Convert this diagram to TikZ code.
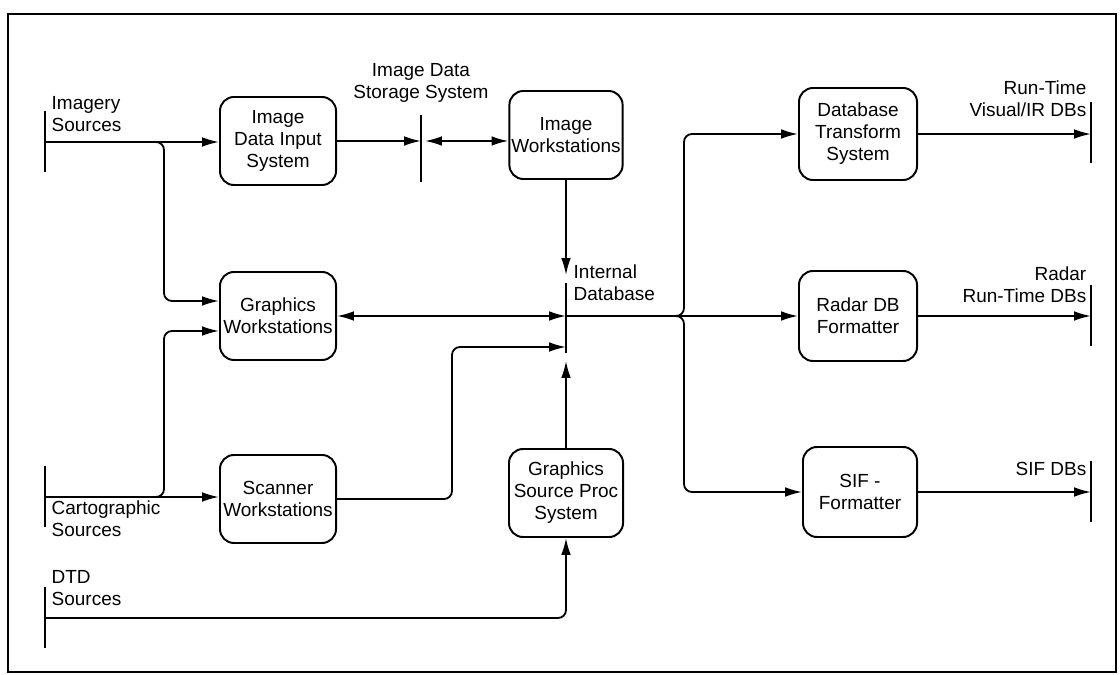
\documentclass[tikz,border=0pt]{standalone}
\usepackage{fontspec}
\setmainfont{Liberation Sans}
\usetikzlibrary{arrows.meta}
\begin{document}
\begin{tikzpicture}[x=0.025cm, y=-0.025cm, >={Latex[length=4.2mm,width=2.4mm]},
  font=\fontsize{13.5}{15.6}\selectfont,
  proc/.style={draw, line width=1.4pt, rounded corners=0.35cm, align=center,
    minimum width=2.9cm, minimum height=2.2cm, inner sep=1pt},
  flow/.style={->, line width=1.3pt, rounded corners=0.2cm},
  bar/.style={line width=1.3pt},
  lbl/.style={inner sep=1pt}]
\useasboundingbox (0,0) rectangle (1120,675);
\draw[line width=1.4pt] (8,14) rectangle (1116,672);

% processing boxes
\node[proc] (idi) at (278,141) {Image\\Data Input\\System};
\node[proc] (gw) at (278,316) {Graphics\\Workstations};
\node[proc] (sw) at (278,499) {Scanner\\Workstations};
\node[proc, minimum width=2.83cm] (iw) at (566,135) {Image\\Workstations};
\node[proc, minimum width=2.85cm] (gsp) at (566,493) {Graphics\\Source Proc\\System};
\node[proc, minimum width=2.95cm, minimum height=2.3cm] (dt) at (858,134) {Database\\Transform\\System};
\node[proc, minimum width=2.95cm, minimum height=2.25cm] (rf) at (858,316) {Radar DB\\Formatter};
\node[proc, minimum width=2.85cm, minimum height=2.25cm] (sif) at (860,492) {SIF -\\Formatter};

% sources, stores and sinks
\coordinate (img) at (45,142);
\coordinate (carto) at (45,497);
\coordinate (dtd) at (45,618);
\coordinate (store) at (421,141);
\coordinate (inttop) at (566,283);
\coordinate (intmid) at (566,316);
\coordinate (intlow) at (566,347);
\coordinate (intbot) at (566,353);
\coordinate (imgfork) at (164,142);
\coordinate (cartofork) at (164,497);
\coordinate (swturn) at (452,347);
\coordinate (dbfork) at (684,316);
\coordinate (vis) at (1091,133);
\coordinate (radar) at (1091,316);
\coordinate (sifout) at (1091,492);

\foreach \c in {img,carto,dtd,vis,radar,sifout}
{
  \draw[bar] (\c) ++(0,-31) -- ++(0,61);
}
\draw[bar] (store) ++(0,-26) -- ++(0,67);
\draw[bar] (inttop) -- (intbot);

% flows
\draw[flow] (img) -- (img -| idi.west);
\draw[flow] ([xshift=-0.3cm]imgfork) -- (imgfork) |- ([yshift=0.375cm]gw.west);
\draw[flow] (carto) -- (carto -| sw.west);
\draw[flow] ([xshift=-0.3cm]cartofork) -- (cartofork) |- ([yshift=-0.375cm]gw.west);
\draw[flow] (idi.east) -- (store);
\draw[flow, <->] ([xshift=0.1cm]store) -- (store -| iw.west);
\draw[flow, shorten >=0.2cm] (iw.south) -- (inttop);
\draw[flow, <->] (gw.east) -- (intmid);
\draw[flow] (sw.east) -| (swturn) -- (intlow);
\draw[flow] (dtd) -| (gsp.south);
\draw[flow, shorten >=0.2cm] (gsp.north) -- (intbot);
\draw[flow] (intmid) -- (rf.west);
\draw[flow] ([xshift=-0.3cm]dbfork) -- (dbfork) |- (dt.west);
\draw[flow] ([xshift=-0.3cm]dbfork) -- (dbfork) |- (sif.west);
\draw[flow] (dt.east) -- (dt.east -| vis);
\draw[flow] (rf.east) -- (radar);
\draw[flow] (sif.east) -- (sifout);

% labels
\node[lbl, anchor=south west, align=left] (imglbl) at (50,133) {Imagery\\Sources};
\node[lbl, anchor=north west, align=left] (cartolbl) at (50,499) {Cartographic\\Sources};
\node[lbl, anchor=south west, align=left] (dtdlbl) at (50,607) {DTD\\Sources};
\node[lbl, anchor=south, align=center] (storelbl) at (421,104) {Image Data\\Storage System};
\node[lbl, anchor=south west, align=left] (intlbl) at (572,302) {Internal\\Database};
\node[lbl, anchor=south east, align=right] (vislbl) at (1088,118) {Run-Time\\Visual/IR DBs};
\node[lbl, anchor=south east, align=right] (radarlbl) at (1088,304) {Radar\\Run-Time DBs};
\node[lbl, anchor=south east, align=right] (siflbl) at (1088,477) {SIF DBs};
\end{tikzpicture}
\end{document}
